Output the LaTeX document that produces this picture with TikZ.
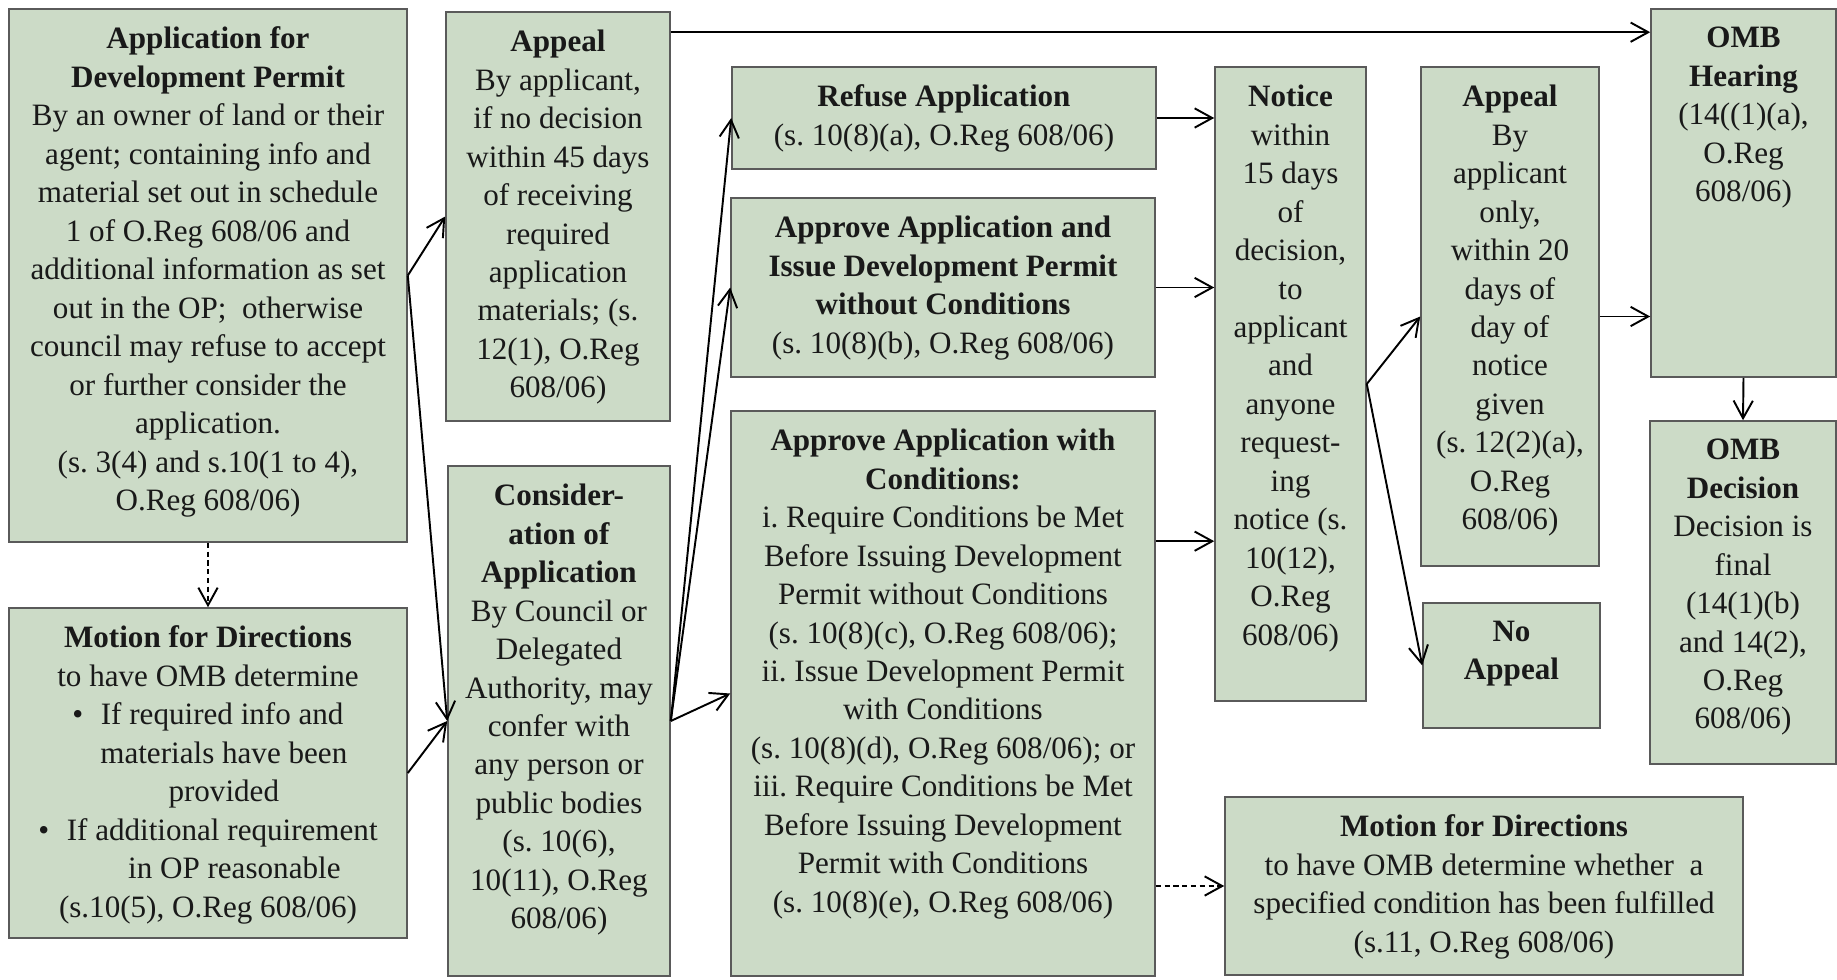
\documentclass[tikz,border=0pt]{standalone}
\usepackage{fontspec}
\setmainfont{Liberation Serif}
\usetikzlibrary{arrows.meta,fit,calc}
\definecolor{boxfill}{RGB}{204,219,199}
\definecolor{boxline}{RGB}{90,90,90}
\definecolor{txtcol}{RGB}{25,25,25}
\tikzset{
  box/.style={draw=boxline, line width=0.9pt, fill=boxfill, inner sep=0pt, rectangle},
  txt/.style={align=center, inner sep=0pt, anchor=north, text=txtcol,
    font=\fontsize{17.7}{21.9}\selectfont\frenchspacing},
  arr/.style={draw=black, line width=1.1pt,
    -{Straight Barb[length=10pt,width=11pt,line width=1.1pt]}},
  darr/.style={arr, dash pattern=on 3pt off 2pt},
}
\begin{document}
\begin{tikzpicture}[x=0.02cm,y=-0.02cm]
\useasboundingbox (0,0) rectangle (1837,980);
% boxes
\node[box, fit={(9,9)(407,542)}] (A) {};
\node[box, fit={(9,608)(407,938)}] (M1) {};
\node[box, fit={(446,12)(670,421)}] (Ap1) {};
\node[box, fit={(448,466)(670,976)}] (Con) {};
\node[box, fit={(732,67)(1156,169)}] (Ref) {};
\node[box, fit={(731,198)(1155,377)}] (AN) {};
\node[box, fit={(731,411)(1155,976)}] (AW) {};
\node[box, fit={(1215,67)(1366,701)}] (Not) {};
\node[box, fit={(1421,67)(1599,566)}] (Ap2) {};
\node[box, fit={(1423,603)(1600,728)}] (NA) {};
\node[box, fit={(1651,9)(1836,377)}] (OH) {};
\node[box, fit={(1650,421)(1836,764)}] (OD) {};
\node[box, fit={(1225,797)(1743,975)}] (M2) {};
% texts
\node[txt] (tA) at ([yshift=-0.37cm]A.north) {\textbf{Application for}\\ \textbf{Development Permit}\\
By an owner of land or their\\ agent; containing info and\\ material set out in schedule\\
1 of O.Reg 608/06 and\\ additional information as set\\ out in the OP;~ otherwise\\
council may refuse to accept\\ or further consider the\\ application.\\
(s. 3(4) and s.10(1 to 4),\\ O.Reg 608/06)};
\node[txt] (tM1) at ([yshift=-0.37cm]M1.north) {\textbf{Motion for Directions}\\ to have OMB determine\\
\textbullet\hspace{10pt}If required info and\\ \hspace*{18pt}materials have been\\ \hspace*{18pt}provided\\
\textbullet\hspace{10pt}If additional requirement\\ \hspace*{30pt}in OP reasonable\\ (s.10(5), O.Reg 608/06)};
\node[txt] (tAp1) at ([yshift=-0.37cm]Ap1.north) {\textbf{Appeal}\\ By applicant,\\ if no decision\\
within 45 days\\ of receiving\\ required\\ application\\ materials; (s.\\ 12(1), O.Reg\\ 608/06)};
\node[txt] (tCon) at ([yshift=-0.37cm]Con.north) {\textbf{Consider-}\\ \textbf{ation of}\\ \textbf{Application}\\
By Council or\\ Delegated\\ Authority, may\\ confer with\\ any person or\\ public bodies\\
(s. 10(6),\\ 10(11), O.Reg\\ 608/06)};
\node[txt] (tRef) at ([yshift=-0.37cm]Ref.north) {\textbf{Refuse Application}\\ (s. 10(8)(a), O.Reg 608/06)};
\node[txt] (tAN) at ([yshift=-0.37cm]AN.north) {\textbf{Approve Application and}\\ \textbf{Issue Development Permit}\\
\textbf{without Conditions}\\ (s. 10(8)(b), O.Reg 608/06)};
\node[txt] (tAW) at ([yshift=-0.37cm]AW.north) {\textbf{Approve Application with}\\ \textbf{Conditions:}\\
i. Require Conditions be Met\\ Before Issuing Development\\ Permit without Conditions\\
(s. 10(8)(c), O.Reg 608/06);\\ ii. Issue Development Permit\\ with Conditions\\
(s. 10(8)(d), O.Reg 608/06); or\\ iii. Require Conditions be Met\\ Before Issuing Development\\
Permit with Conditions\\ (s. 10(8)(e), O.Reg 608/06)};
\node[txt] (tNot) at ([yshift=-0.37cm]Not.north) {\textbf{Notice}\\ within\\ 15 days\\ of\\ decision,\\ to\\
applicant\\ and\\ anyone\\ request-\\ ing\\ notice (s.\\ 10(12),\\ O.Reg\\ 608/06)};
\node[txt] (tAp2) at ([yshift=-0.37cm]Ap2.north) {\textbf{Appeal}\\ By\\ applicant\\ only,\\ within 20\\
days of\\ day of\\ notice\\ given\\ (s. 12(2)(a),\\ O.Reg\\ 608/06)};
\node[txt] (tNA) at ([yshift=-0.37cm]NA.north) {\textbf{No}\\ \textbf{Appeal}};
\node[txt] (tOH) at ([yshift=-0.37cm]OH.north) {\textbf{OMB}\\ \textbf{Hearing}\\ (14((1)(a),\\ O.Reg\\ 608/06)};
\node[txt] (tOD) at ([yshift=-0.37cm]OD.north) {\textbf{OMB}\\ \textbf{Decision}\\ Decision is\\ final\\
(14(1)(b)\\ and 14(2),\\ O.Reg\\ 608/06)};
\node[txt] (tM2) at ([yshift=-0.37cm]M2.north) {\textbf{Motion for Directions}\\
to have OMB determine whether~ a\\ specified condition has been fulfilled\\ (s.11, O.Reg 608/06)};
% connectors
\draw[arr] (A.east) -- (Ap1.west);
\draw[arr] (A.east) -- (Con.west);
\draw[arr] (M1.east) -- (Con.west);
\draw[darr] (A.south) -- (M1.north);
\coordinate (p1) at ([yshift=-0.42cm]Ap1.north east);
\draw[arr] (p1) -- (p1 -| OH.west);
\draw[arr] (Con.east) -- (Ref.west);
\draw[arr] (Con.east) -- (AN.west);
\draw[arr] (Con.east) -- (AW.west);
\draw[arr] (Ref.east) -- (Ref.east -| Not.west);
\draw[arr] (AN.east) -- (AN.east -| Not.west);
\coordinate (p2) at ([yshift=-2.62cm]AW.north east);
\draw[arr] (p2) -- (p2 -| Not.west);
\draw[darr] (AW.east |- M2.west) -- (M2.west);
\draw[arr] (Not.east) -- (Ap2.west);
\draw[arr] (Not.east) -- (NA.west);
\draw[arr] (Ap2.east) -- (Ap2.east -| OH.west);
\draw[arr] (OH.south) -- (OD.north);
\end{tikzpicture}
\end{document}
